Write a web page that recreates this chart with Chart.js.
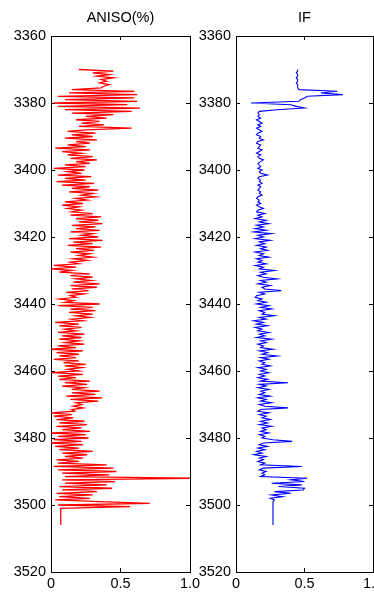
<!DOCTYPE html>
<html><head><meta charset="utf-8">
<script src="https://cdn.jsdelivr.net/npm/chart.js@4.4.0/dist/chart.umd.min.js"></script>
<style>
html,body{margin:0;padding:0;width:374px;height:592px;overflow:hidden;background:#fff;}
canvas{position:absolute;top:0;}
#c1{left:0;}
#c2{left:192px;}
</style></head><body>
<canvas id="c1" width="220" height="592"></canvas>
<canvas id="c2" width="220" height="592"></canvas>
<script>
// ---- data ----
const panelTitles = ['ANISO(%)', 'IF'];
const depthMin = 3360, depthMax = 3520, depthStep = 20;
const valueMin = 0, valueMax = 1, valueStep = 0.5;
const sampleTop = 3370;      // depth of first sample (m)
const sampleStep = 0.5;      // sampling interval (m)

const aniso = [
0.20,0.45,0.30,0.42, 0.33,0.45,0.36,0.40, 0.35,0.42,0.38,0.36, 0.15,0.60,0.13,0.62,
0.05,0.60,0.10,0.62, 0.02,0.55,0.05,0.64, 0.10,0.58,0.15,0.45, 0.25,0.40,0.18,0.35,
0.22,0.38,0.20,0.58, 0.25,0.12,0.32,0.15, 0.30,0.10,0.33,0.18, 0.28,0.12,0.25,0.03,
0.28,0.08,0.22,0.12, 0.30,0.14,0.33,0.18, 0.28,0.10,0.25,0.02, 0.24,0.12,0.22,0.05,
0.29,0.10,0.25,0.04, 0.31,0.08,0.28,0.15, 0.34,0.13,0.30,0.22, 0.32,0.18,0.26,0.10,
0.23,0.08,0.20,0.12, 0.22,0.15,0.30,0.14, 0.36,0.18,0.34,0.20, 0.37,0.15,0.32,0.18,
0.35,0.14,0.30,0.22, 0.34,0.13,0.37,0.16, 0.30,0.12,0.36,0.18, 0.31,0.14,0.28,0.20,
0.30,0.16,0.26,0.14, 0.20,0.02,0.18,0.00, 0.15,0.06,0.28,0.14, 0.30,0.18,0.29,0.16,
0.35,0.14,0.33,0.15, 0.27,0.11,0.24,0.14, 0.18,0.06,0.16,0.10, 0.35,0.05,0.30,0.14,
0.32,0.13,0.30,0.18, 0.28,0.15,0.23,0.03, 0.20,0.06,0.22,0.10, 0.18,0.05,0.24,0.08,
0.22,0.06,0.20,0.10, 0.24,0.05,0.18,0.00, 0.23,0.04,0.20,0.06, 0.18,0.02,0.20,0.09,
0.25,0.10,0.22,0.12, 0.20,0.00,0.23,0.05, 0.18,0.06,0.28,0.10, 0.26,0.08,0.24,0.15,
0.35,0.15,0.32,0.11, 0.37,0.14,0.34,0.18, 0.22,0.16,0.23,0.15, 0.17,0.00,0.15,0.02,
0.16,0.04,0.24,0.06, 0.26,0.04,0.22,0.08, 0.28,0.00,0.25,0.05, 0.27,0.02,0.22,0.00,
0.23,0.03,0.20,0.06, 0.30,0.08,0.26,0.10, 0.23,0.04,0.20,0.05, 0.40,0.02,0.45,0.05,
0.47,0.08,0.42,0.10, 1.10,0.08,0.46,0.10, 0.40,0.06,0.44,0.08, 0.33,0.04,0.30,0.06,
0.28,0.03,0.35,0.71, 0.05,0.57,0.07,0.07, 0.07,0.07,0.07,0.07, 0.07,0.07,0.07,0.07,
0.07
];

const ifValues = [
0.45,0.45,0.44,0.45,0.45,0.44,0.45,0.45,0.44,0.45,
0.45,0.45,0.46,0.74,0.62,0.78,0.52,0.50,0.47,0.46,
0.11,0.40,0.44,0.50,0.30,0.17,0.16,0.17,0.16,0.18,
0.15,0.17,0.19,0.16,0.18,0.15,0.17,0.19,0.16,0.15,
0.18,0.17,0.20,0.16,0.15,0.18,0.17,0.16,0.19,0.17,
0.15,0.18,0.16,0.17,0.20,0.18,0.16,0.17,0.18,0.16,
0.19,0.17,0.18,0.23,0.17,0.16,0.18,0.17,0.19,0.16,
0.18,0.17,0.16,0.18,0.17,0.19,0.16,0.15,0.17,0.16,
0.18,0.15,0.17,0.20,0.16,0.15,0.21,0.16,0.19,0.14,
0.22,0.17,0.24,0.15,0.20,0.14,0.22,0.13,0.26,0.16,
0.20,0.14,0.25,0.17,0.21,0.15,0.22,0.18,0.23,0.14,
0.20,0.17,0.24,0.15,0.19,0.16,0.22,0.14,0.20,0.17,
0.28,0.18,0.22,0.16,0.20,0.30,0.18,0.22,0.16,0.25,
0.19,0.21,0.33,0.17,0.21,0.15,0.14,0.19,0.16,0.22,
0.15,0.24,0.18,0.26,0.17,0.21,0.19,0.28,0.17,0.22,
0.13,0.20,0.15,0.23,0.14,0.19,0.16,0.24,0.17,0.21,
0.15,0.26,0.18,0.22,0.16,0.20,0.18,0.27,0.17,0.23,
0.19,0.30,0.18,0.24,0.17,0.21,0.19,0.25,0.16,0.22,
0.18,0.24,0.17,0.21,0.16,0.23,0.18,0.38,0.17,0.22,
0.16,0.24,0.18,0.21,0.17,0.25,0.16,0.22,0.18,0.26,
0.17,0.21,0.38,0.18,0.16,0.24,0.17,0.22,0.19,0.25,
0.18,0.23,0.17,0.26,0.19,0.22,0.18,0.24,0.17,0.21,
0.19,0.27,0.41,0.20,0.17,0.23,0.16,0.21,0.15,0.19,
0.13,0.22,0.17,0.20,0.16,0.21,0.18,0.48,0.20,0.17,
0.22,0.19,0.21,0.18,0.52,0.40,0.50,0.26,0.48,0.31,
0.50,0.49,0.28,0.40,0.26,0.34,0.25,0.28,0.27,0.27,
0.27,0.27,0.27,0.27,0.27,0.27,0.27,0.27,0.27,0.27,
0.27,0.27,0.27
];

// ---- drawing ----
const FONT = {family: "'Liberation Sans', Arial, sans-serif", size: 14.5, weight: 'normal', lineHeight: 1.2};
const gridOpts = {drawOnChartArea: false, color: '#000', tickLength: -4, tickWidth: 1};
const borderOpts = {color: '#000', width: 1};

function toPoints(values) {
  return values.map((v, i) => ({x: v, y: sampleTop + i * sampleStep}));
}

function makePanel(canvasId, title, values, color, lw, yAxisWidth, padRight) {
  return new Chart(document.getElementById(canvasId), {
    type: 'scatter',
    data: {datasets: [{
      data: toPoints(values),
      showLine: true, borderColor: color, backgroundColor: color,
      borderWidth: lw, pointRadius: 0, pointHoverRadius: 0, tension: 0
    }]},
    options: {
      responsive: false, animation: false, events: [],
      layout: {padding: {left: 0, right: padRight, top: 0, bottom: 0}},
      plugins: {
        legend: {display: false}, tooltip: {enabled: false},
        title: {display: true, text: title, color: '#000', font: FONT,
                fullSize: false, padding: {top: 9, bottom: 9.6}}
      },
      scales: {
        x: {type: 'linear', position: 'bottom', min: valueMin, max: valueMax,
            ticks: {stepSize: valueStep, color: '#000', font: FONT, padding: 7, maxRotation: 0},
            grid: gridOpts, border: borderOpts,
            afterFit: s => { s.height = 20; }},
        x2: {type: 'linear', position: 'top', min: valueMin, max: valueMax,
            ticks: {stepSize: valueStep, display: false},
            grid: gridOpts, border: borderOpts,
            afterFit: s => { s.height = 0; }},
        y: {type: 'linear', position: 'left', reverse: true, min: depthMin, max: depthMax,
            ticks: {stepSize: depthStep, color: '#000', font: FONT, padding: 9,
                    callback: v => String(v)},
            grid: gridOpts, border: borderOpts,
            afterFit: s => { s.width = yAxisWidth; }},
        y2: {type: 'linear', position: 'right', reverse: true, min: depthMin, max: depthMax,
            ticks: {stepSize: depthStep, display: false},
            grid: gridOpts, border: borderOpts,
            afterFit: s => { s.width = 0; }}
      }
    }
  });
}

makePanel('c1', panelTitles[0], aniso, '#ff0000', 1.3, 51, 30);
makePanel('c2', panelTitles[1], ifValues, '#0000ff', 1.1, 44, 39);
</script>
</body></html>
